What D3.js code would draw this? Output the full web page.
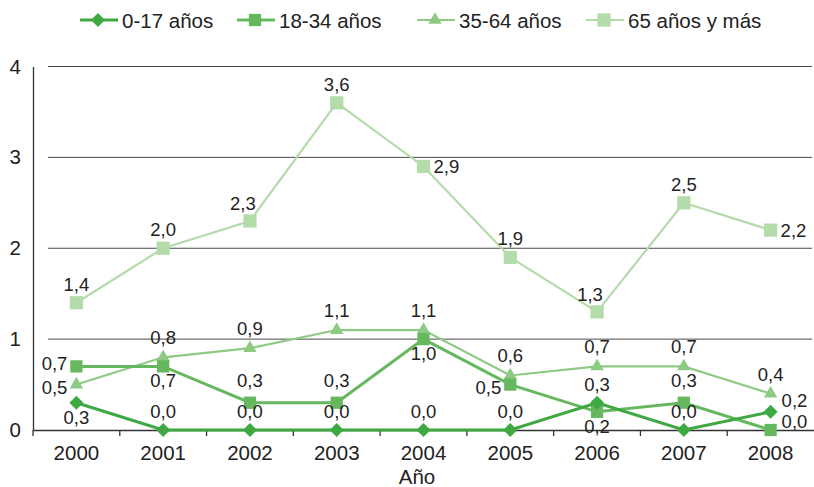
<!DOCTYPE html>
<html>
<head>
<meta charset="utf-8">
<script src="https://cdn.jsdelivr.net/npm/d3@7"></script>
<style>
  body { margin: 0; background: #fff; }
  svg { display: block; font-family: "Liberation Sans", Arial, sans-serif; }
</style>
</head>
<body>
<svg id="chart" width="814" height="487"></svg>
<script>
// Years on the x axis
const years = ["2000", "2001", "2002", "2003", "2004", "2005", "2006", "2007", "2008"];

// Rates per age group
const age0_17  = [0.3, 0.0, 0.0, 0.0, 0.0, 0.0, 0.3, 0.0, 0.2];
const age18_34 = [0.7, 0.7, 0.3, 0.3, 1.0, 0.5, 0.2, 0.3, 0.0];
const age35_64 = [0.5, 0.8, 0.9, 1.1, 1.1, 0.6, 0.7, 0.7, 0.4];
const age65    = [1.4, 2.0, 2.3, 3.6, 2.9, 1.9, 1.3, 2.5, 2.2];

const seriesNames = ["0-17 años", "18-34 años", "35-64 años", "65 años y más"];
const yTicks = [0, 1, 2, 3, 4];

// Where each value label sits relative to its point
// a = above, al = above-left, b = below, lu / ld = left (raised / lowered),
// r = right, ru = right and raised
const labelPlace = [
  ["b", "a", "a", "a", "a", "a", "a", "a", "ru"],
  ["lu", "b", "a", "a", "b", "ld", "b", "a", "ru"],
  ["ld", "a", "a", "a", "a", "a", "a", "a", "a"],
  ["a", "a", "al", "a", "r", "a", "al", "a", "r"]
];

const series = [
  { name: seriesNames[0], values: age0_17,  color: "#3ea843", width: 3,   symbol: d3.symbolDiamond2, size: 125, above: 12, raise: 5 },
  { name: seriesNames[1], values: age18_34, color: "#66b85f", width: 3,   symbol: d3.symbolSquare,   size: 150, above: 16, raise: 2 },
  { name: seriesNames[2], values: age35_64, color: "#8dca82", width: 2.2, symbol: d3.symbolTriangle, size: 78,  above: 13, raise: 3 },
  { name: seriesNames[3], values: age65,    color: "#b4dbaa", width: 2.2, symbol: d3.symbolSquare,   size: 175, above: 12, raise: 3 }
];

const svg = d3.select("#chart");
const plotLeft = 33, plotRight = 814, plotTop = 66.5, plotBottom = 430;

const x = d3.scaleBand().domain(years).range([plotLeft, plotRight]).padding(0);
const y = d3.scaleLinear().domain([0, 4]).range([plotBottom, plotTop]);
const cx = d => x(d) + x.bandwidth() / 2;

// Horizontal gridlines
svg.append("g")
  .selectAll("line")
  .data(yTicks.filter(t => t > 0))
  .join("line")
  .attr("x1", 48).attr("x2", 812)
  .attr("y1", d => y(d)).attr("y2", d => y(d))
  .attr("stroke", "#4a4a4a").attr("stroke-width", 1);

// Y axis
const yAxis = svg.append("g")
  .attr("transform", `translate(${plotLeft},0)`)
  .call(d3.axisLeft(y).tickValues(yTicks).tickSize(0).tickPadding(12).tickFormat(d3.format("d")));
yAxis.select(".domain").attr("stroke", "#333").attr("stroke-width", 1.3);
yAxis.selectAll("text").attr("font-size", 20.5).attr("fill", "#222")
  .attr("font-family", "Liberation Sans, Arial, sans-serif");

// X axis with ticks on category boundaries
const xAxis = svg.append("g")
  .attr("transform", `translate(0,${plotBottom})`)
  .call(d3.axisBottom(x).tickSize(0).tickPadding(15));
xAxis.select(".domain").attr("stroke", "#333").attr("stroke-width", 1.3);
xAxis.selectAll("text").attr("font-size", 20.5).attr("fill", "#222")
  .attr("font-family", "Liberation Sans, Arial, sans-serif");
xAxis.selectAll(".boundary")
  .data(years)
  .join("line")
  .attr("class", "boundary")
  .attr("x1", d => x(d)).attr("x2", d => x(d))
  .attr("y1", 0).attr("y2", 6)
  .attr("stroke", "#333").attr("stroke-width", 1.3);

// Axis title
svg.append("text")
  .attr("x", 417).attr("y", 484)
  .attr("text-anchor", "middle")
  .attr("font-size", 20.5).attr("fill", "#222")
  .text("Año");

const line = d3.line().x((d, i) => cx(years[i])).y(d => y(d));
const fmt = v => d3.format(".1f")(v).replace(".", ",");

const drawOrder = [3, 2, 1, 0];
drawOrder.forEach(si => {
  const s = series[si];
  const g = svg.append("g");
  g.append("path")
    .datum(s.values)
    .attr("d", line)
    .attr("fill", "none")
    .attr("stroke", s.color)
    .attr("stroke-width", s.width)
    .attr("stroke-linejoin", "miter");
  g.selectAll(".m")
    .data(s.values)
    .join("path")
    .attr("class", "m")
    .attr("transform", (d, i) => `translate(${cx(years[i])},${y(d)})`)
    .attr("d", d3.symbol().type(s.symbol).size(s.size))
    .attr("fill", s.color);
});

// Value labels
drawOrder.forEach(si => {
  const s = series[si];
  svg.append("g")
    .selectAll("text")
    .data(s.values)
    .join("text")
    .attr("font-size", 18.5)
    .attr("fill", "#222")
    .each(function (d, i) {
      const px = cx(years[i]), py = y(d);
      const p = labelPlace[si][i];
      const t = d3.select(this).text(fmt(d));
      if (p === "a") t.attr("x", px).attr("y", py - s.above).attr("text-anchor", "middle");
      else if (p === "al") t.attr("x", px - 7).attr("y", py - 11).attr("text-anchor", "middle");
      else if (p === "b") t.attr("x", px).attr("y", py + 21).attr("text-anchor", "middle");
      else if (p === "lu") t.attr("x", px - 9).attr("y", py + 4).attr("text-anchor", "end");
      else if (p === "ld") t.attr("x", px - 9).attr("y", py + 9).attr("text-anchor", "end");
      else if (p === "r") t.attr("x", px + 10).attr("y", py + 7).attr("text-anchor", "start");
      else if (p === "ru") t.attr("x", px + 11).attr("y", py - s.raise).attr("text-anchor", "start");
    });
});

// Legend
const legendX = [80, 237, 417, 586];
const legend = svg.append("g").attr("transform", "translate(0,20)");
series.forEach((s, i) => {
  const g = legend.append("g").attr("transform", `translate(${legendX[i]},0)`);
  g.append("line").attr("x1", 0).attr("x2", 38).attr("y1", 0).attr("y2", 0)
    .attr("stroke", s.color).attr("stroke-width", s.width);
  g.append("path").attr("transform", "translate(18,0)")
    .attr("d", d3.symbol().type(s.symbol).size(s.size))
    .attr("fill", s.color);
  g.append("text").attr("x", 42).attr("y", 7.5)
    .attr("font-size", 20.5).attr("fill", "#222")
    .text(s.name);
});
</script>
</body>
</html>
